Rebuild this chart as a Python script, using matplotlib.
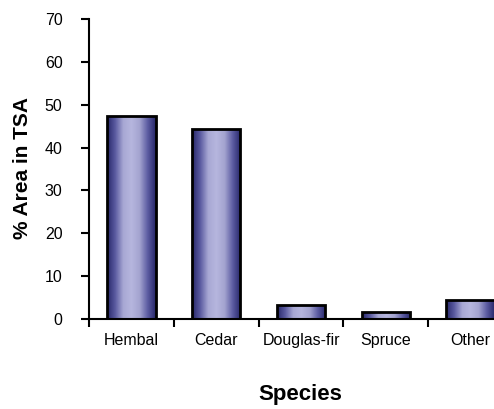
import matplotlib
matplotlib.use('Agg')
import matplotlib.pyplot as plt
from matplotlib.colors import LinearSegmentedColormap
import numpy as np

plt.rcParams['font.family'] = ['Liberation Sans', 'DejaVu Sans']

species = ['Hembal', 'Cedar', 'Douglas-fir', 'Spruce', 'Other']
area_pct = [47.4, 44.3, 3.3, 1.6, 4.4]
yticks = [0, 10, 20, 30, 40, 50, 60, 70]

# cylinder-like shading: dark edges, light centre
shade = LinearSegmentedColormap.from_list(
    'cyl', ['#262668', '#5a5aa0', '#a8a8d4', '#b6b6de', '#a4a4d0', '#5c5ca2', '#262668'])

fig = plt.figure(figsize=(4.94, 4.09), dpi=100)
ax = fig.add_axes([89/494, 90/409, 424/494, 300/409])

x = np.arange(len(species))
bars = ax.bar(x, area_pct, width=0.57, facecolor='none', edgecolor='black',
              linewidth=2.0, zorder=3)
grad = np.linspace(0, 1, 256).reshape(1, -1)
for b in bars:
    x0, y0 = b.get_x(), b.get_y()
    im = ax.imshow(grad, cmap=shade, aspect='auto', zorder=2,
                   extent=[x0, x0 + b.get_width(), y0, y0 + b.get_height()])
    im.set_clip_path(b)

ax.set_xlim(-0.5, 4.5)
ax.set_ylim(0, 70)
ax.set_yticks(yticks)
ax.set_xticks(x)
ax.set_xticklabels(species, fontsize=11.5)
ax.set_xticks(np.arange(-0.5, 5, 1), minor=True)
ax.tick_params(axis='x', which='major', length=0, pad=10)
ax.tick_params(axis='x', which='minor', length=6, width=1.5, direction='out')
ax.tick_params(axis='y', length=6, width=1.5, labelsize=11.5, pad=13)

for s in ['top', 'right']:
    ax.spines[s].set_visible(False)
ax.spines['left'].set_linewidth(1.5)
ax.spines['bottom'].set_linewidth(1.5)

ax.set_xlabel('Species', fontsize=16, fontweight='bold')
ax.set_ylabel('% Area in TSA', fontsize=15, fontweight='bold')
ax.xaxis.set_label_coords((300 - 89) / 424, -(384 - 319) / 300)
ax.yaxis.set_label_coords(-(89 - 32) / 424, 0.5 + (319 - 168 - 150) / 300)

fig.savefig('out.png', dpi=100)
